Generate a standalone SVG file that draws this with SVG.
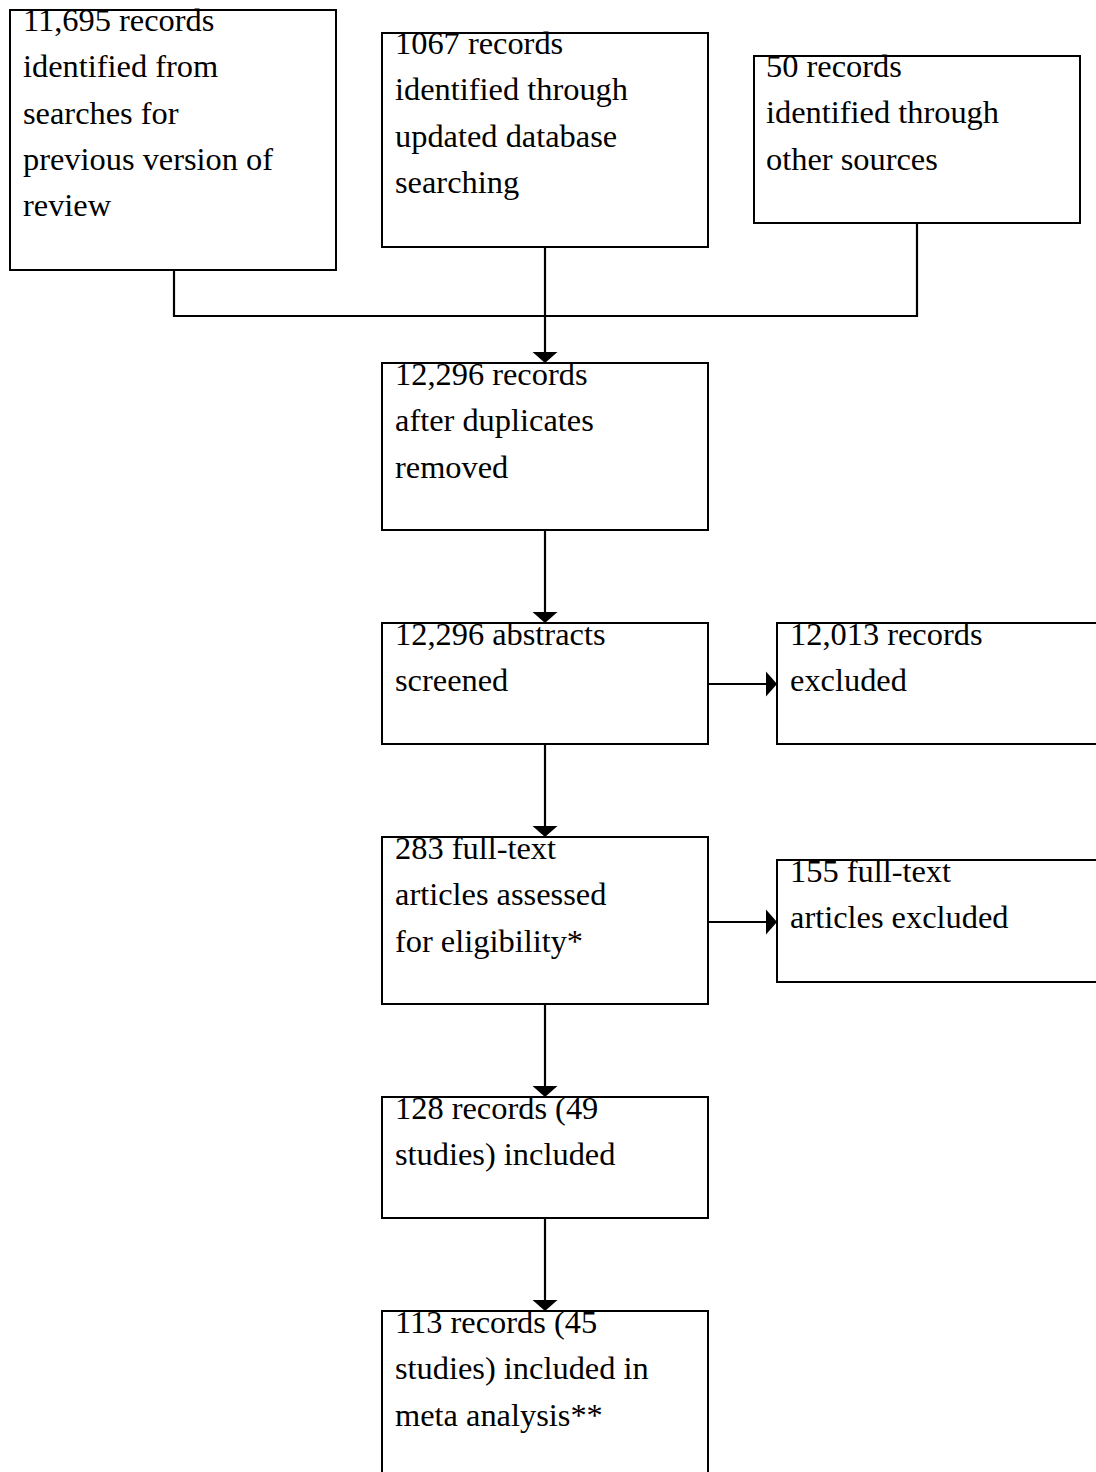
<svg xmlns="http://www.w3.org/2000/svg" width="1096" height="1472" viewBox="0 0 1096 1472">
<style>
.box{fill:#fff;stroke:#000;stroke-width:2}
.t{font-family:"Liberation Serif","Times New Roman",serif;font-size:32.4px;fill:#000}
.c{stroke:#000;stroke-width:2.2;fill:none}
</style>
<defs>
<marker id="ah" markerWidth="26" markerHeight="26" refX="11" refY="13" orient="auto" markerUnits="userSpaceOnUse">
<path d="M0,0.5 L11,13 L0,25.5 Z" fill="#000"/>
</marker>
</defs>
<rect width="1096" height="1472" fill="#fff"/>
<g id="connectors">
<path class="c" d="M174,270 V316 H917 V223"/>
<path class="c" d="M545,247 V363" marker-end="url(#ah)"/>
<path class="c" d="M545,530 V623" marker-end="url(#ah)"/>
<path class="c" d="M545,744 V837" marker-end="url(#ah)"/>
<path class="c" d="M545,1004 V1097" marker-end="url(#ah)"/>
<path class="c" d="M545,1218 V1311" marker-end="url(#ah)"/>
<path class="c" d="M708,684 H777" marker-end="url(#ah)"/>
<path class="c" d="M708,922 H777" marker-end="url(#ah)"/>
</g>
<g id="n1"><rect class="box" x="10" y="10" width="326" height="260"/>
<text class="t" x="23" y="31"><tspan x="23">11,695 records</tspan><tspan x="23" dy="46.3">identified from</tspan><tspan x="23" dy="46.3">searches for</tspan><tspan x="23" dy="46.3">previous version of</tspan><tspan x="23" dy="46.3">review</tspan></text></g>
<g id="n2"><rect class="box" x="382" y="33" width="326" height="214"/>
<text class="t" x="395" y="54"><tspan x="395">1067 records</tspan><tspan x="395" dy="46.3">identified through</tspan><tspan x="395" dy="46.3">updated database</tspan><tspan x="395" dy="46.3">searching</tspan></text></g>
<g id="n3"><rect class="box" x="754" y="56" width="326" height="167"/>
<text class="t" x="766" y="77"><tspan x="766">50 records</tspan><tspan x="766" dy="46.3">identified through</tspan><tspan x="766" dy="46.3">other sources</tspan></text></g>
<g id="n4"><rect class="box" x="382" y="363" width="326" height="167"/>
<text class="t" x="395" y="385"><tspan x="395">12,296 records</tspan><tspan x="395" dy="46.3">after duplicates</tspan><tspan x="395" dy="46.3">removed</tspan></text></g>
<g id="n5"><rect class="box" x="382" y="623" width="326" height="121"/>
<text class="t" x="395" y="645"><tspan x="395">12,296 abstracts</tspan><tspan x="395" dy="46.3">screened</tspan></text></g>
<g id="n6"><rect class="box" x="777" y="623" width="326" height="121"/>
<text class="t" x="790" y="645"><tspan x="790">12,013 records</tspan><tspan x="790" dy="46.3">excluded</tspan></text></g>
<g id="n7"><rect class="box" x="382" y="837" width="326" height="167"/>
<text class="t" x="395" y="859"><tspan x="395">283 full-text</tspan><tspan x="395" dy="46.3">articles assessed</tspan><tspan x="395" dy="46.3">for eligibility*</tspan></text></g>
<g id="n8"><rect class="box" x="777" y="860" width="326" height="122"/>
<text class="t" x="790" y="882"><tspan x="790">155 full-text</tspan><tspan x="790" dy="46.3">articles excluded</tspan></text></g>
<g id="n9"><rect class="box" x="382" y="1097" width="326" height="121"/>
<text class="t" x="395" y="1119"><tspan x="395">128 records (49</tspan><tspan x="395" dy="46.3">studies) included</tspan></text></g>
<g id="n10"><rect class="box" x="382" y="1311" width="326" height="200"/>
<text class="t" x="395" y="1333"><tspan x="395">113 records (45</tspan><tspan x="395" dy="46.3">studies) included in</tspan><tspan x="395" dy="46.3">meta analysis**</tspan></text></g>
</svg>
